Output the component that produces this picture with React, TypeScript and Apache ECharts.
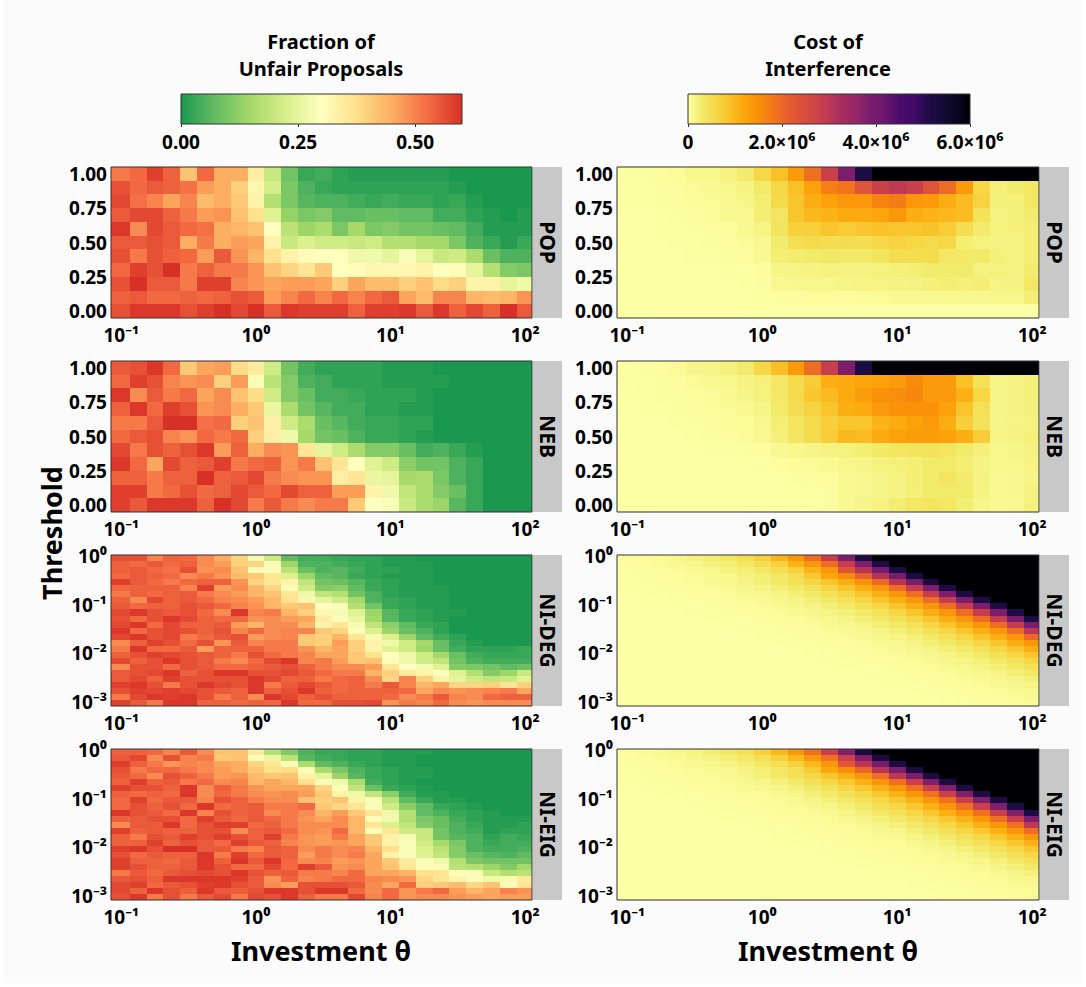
import React, { useEffect, useRef } from "react";
import * as echarts from "echarts";

// Fraction of unfair proposals, in percent. Rows run top to bottom, columns left to right.
const popUnfair = [
  [51,53,58,54,42,53,45,45,34,20,9,3,4,2,1,1,1,1,1,1,0,0,0,0,0],
  [56,53,55,54,52,47,45,40,32,22,10,5,3,2,2,2,2,2,2,2,1,0,0,0,0],
  [57,52,50,46,50,43,45,41,33,17,10,6,5,5,4,3,4,3,3,2,3,1,0,0,0],
  [55,57,57,54,51,47,48,42,37,24,13,10,11,7,7,8,8,7,7,4,4,2,1,0,1],
  [59,49,57,55,53,52,45,44,42,30,18,14,16,10,15,10,11,9,9,8,7,4,1,1,1],
  [55,55,56,55,45,51,45,47,46,33,20,23,21,21,20,21,17,17,15,15,10,5,3,1,3],
  [56,51,56,54,53,47,55,48,44,37,33,31,30,30,27,27,25,29,25,20,21,16,8,5,5],
  [53,58,56,60,51,54,51,51,48,42,39,36,41,30,31,32,32,32,33,30,31,25,17,11,10],
  [56,60,55,55,51,58,58,50,48,46,47,47,46,40,46,43,43,40,42,38,40,33,33,25,27],
  [54,55,53,53,54,53,54,56,55,47,50,53,50,53,50,53,55,46,43,50,50,44,43,44,48],
  [56,59,59,59,56,58,60,57,60,55,59,58,58,58,54,58,58,59,55,59,54,57,54,60,55],
];
const nebUnfair = [
  [55,56,59,53,41,46,47,38,35,21,9,4,2,2,2,2,1,1,1,0,0,0,0,0,0],
  [53,58,56,50,48,49,40,47,29,18,11,5,4,2,2,2,1,1,1,1,0,0,0,0,0],
  [59,49,55,51,53,46,49,42,38,21,11,8,4,4,3,2,2,2,1,0,0,0,0,0,0],
  [54,59,53,58,56,48,49,45,41,26,16,9,6,4,4,2,2,1,1,0,0,0,0,0,0],
  [51,51,55,60,60,52,53,40,42,34,21,16,8,6,4,3,3,2,2,0,0,0,0,0,0],
  [53,55,56,50,48,53,51,53,40,34,27,15,9,8,5,3,3,2,1,0,0,0,0,0,0],
  [57,51,56,54,56,59,47,54,45,49,48,36,25,21,16,11,11,8,4,5,3,1,0,0,0],
  [59,53,46,57,54,55,58,51,53,54,48,51,42,36,30,24,21,12,9,9,5,3,0,0,0],
  [54,54,51,54,54,60,54,55,57,51,49,48,48,34,36,26,25,15,16,10,5,3,0,0,0],
  [58,58,51,53,56,53,54,57,55,53,57,54,54,47,47,33,27,19,16,11,8,3,0,0,0],
  [58,55,59,59,59,54,60,57,51,55,51,49,51,51,41,30,29,20,16,14,6,3,0,0,0],
];
const degUnfair = [
  [56,56,50,54,53,49,45,39,28,21,7,4,4,3,2,2,1,1,0,0,0,0,0,0,0],
  [54,53,55,53,54,49,47,40,39,29,14,5,5,4,3,2,1,1,1,0,0,0,0,0,0],
  [54,55,53,52,56,48,49,42,29,29,18,8,5,6,4,2,2,1,1,0,0,0,0,0,0],
  [53,55,54,53,49,51,48,43,41,36,23,14,7,6,3,2,1,1,1,0,0,0,0,0,0],
  [58,55,53,51,53,54,54,48,39,36,33,19,9,8,6,3,2,1,1,0,0,0,0,0,0],
  [53,54,54,54,50,58,47,49,44,39,29,21,11,12,7,3,2,1,1,1,0,0,0,0,0],
  [51,54,53,54,55,51,49,47,44,42,36,27,19,17,9,5,2,1,1,1,0,0,0,0,0],
  [54,49,57,54,55,53,50,49,47,44,37,32,25,21,15,5,3,2,1,1,0,0,0,0,0],
  [55,53,54,54,56,55,53,50,48,44,41,42,30,29,17,9,3,2,1,1,0,0,0,0,0],
  [57,59,56,55,56,53,49,59,50,51,44,40,32,28,24,14,6,3,2,1,1,0,0,0,0],
  [56,53,56,59,57,54,53,53,48,49,47,46,34,29,26,15,6,3,2,1,0,0,0,0,0],
  [57,59,53,57,54,54,55,47,44,49,49,44,33,36,28,19,12,7,3,2,0,0,0,0,0],
  [59,53,56,57,56,54,56,50,53,49,50,50,41,39,31,23,14,8,5,2,0,0,0,0,0],
  [57,59,56,57,51,53,55,56,47,49,50,41,40,44,36,28,23,14,7,4,2,0,0,0,0],
  [49,54,58,56,53,56,48,55,50,51,51,41,40,47,40,33,27,21,15,8,3,1,0,0,0],
  [51,59,53,53,55,47,54,54,54,51,51,48,44,46,40,33,24,21,14,8,4,2,2,2,3],
  [54,56,58,57,56,55,54,51,56,53,51,50,46,46,41,37,30,27,21,15,8,4,3,3,3],
  [57,54,56,59,56,55,51,49,53,57,59,50,51,47,41,42,31,27,21,19,9,5,4,4,4],
  [49,56,56,53,56,55,53,53,54,55,56,54,51,49,49,47,36,30,28,24,11,10,9,7,8],
  [55,56,57,59,54,56,59,59,56,56,57,55,53,51,51,44,40,35,33,30,24,17,11,14,20],
  [55,57,54,58,56,56,56,56,59,57,54,54,51,53,54,49,39,50,40,33,25,21,19,20,24],
  [58,59,56,51,56,59,57,56,59,51,55,57,55,53,54,51,55,50,44,46,39,39,40,36,40],
  [56,58,57,58,57,56,55,54,59,54,56,59,54,53,54,54,54,53,46,49,48,49,50,51,46],
  [51,57,59,58,59,56,51,54,49,59,57,54,56,54,54,54,53,49,51,55,50,49,53,54,54],
  [58,55,51,59,59,54,54,53,54,53,59,53,53,56,56,57,48,51,50,53,49,48,49,49,49],
];
const eigUnfair = [
  [54,54,53,50,55,49,42,42,35,17,11,5,3,3,2,2,1,1,1,0,0,0,0,0,0],
  [55,57,49,56,50,51,41,42,31,26,18,6,4,3,2,2,1,1,0,0,0,0,0,0,0],
  [58,54,51,48,50,49,46,45,39,36,29,16,7,5,3,2,1,1,0,0,0,0,0,0,0],
  [56,51,53,53,51,49,47,45,41,37,38,29,16,10,5,3,2,1,1,0,0,0,0,0,0],
  [55,53,49,56,54,51,47,48,43,41,42,33,25,14,6,3,2,1,1,0,0,0,0,0,0],
  [54,58,54,55,51,53,49,50,44,46,44,37,29,27,16,4,2,1,0,0,0,0,0,0,0],
  [58,56,56,54,59,49,54,51,48,46,46,46,39,29,19,8,3,2,1,0,0,0,0,0,0],
  [54,53,54,53,59,49,53,51,49,48,49,47,41,33,27,19,12,4,1,1,0,0,0,0,0],
  [53,58,53,55,55,50,56,54,51,49,49,42,40,42,33,29,18,7,3,1,1,0,0,0,0],
  [53,56,54,56,53,59,53,54,55,51,51,53,41,39,36,29,21,12,7,3,2,1,0,0,0],
  [59,56,55,53,59,50,56,54,55,49,51,49,44,47,41,36,27,17,7,5,3,2,1,0,0],
  [54,55,56,56,53,58,55,53,55,53,51,48,46,49,44,31,27,17,10,8,4,2,1,1,1],
  [49,55,55,59,53,56,58,58,53,54,51,49,49,49,44,36,23,19,11,8,5,3,1,1,2],
  [58,54,55,54,54,56,56,49,54,55,53,49,48,53,44,31,36,21,20,9,5,4,1,2,2],
  [54,51,56,55,58,56,58,56,54,58,51,48,47,51,46,41,33,28,20,9,6,5,2,4,3],
  [54,54,58,54,56,55,53,58,55,54,50,48,47,48,46,41,33,29,21,15,10,5,3,4,4],
  [58,59,56,60,60,55,55,51,50,55,54,49,51,49,50,44,37,29,23,18,11,5,4,4,5],
  [56,53,55,54,54,59,51,58,53,55,54,47,51,49,51,46,33,29,24,19,11,8,6,5,7],
  [58,54,54,53,55,59,54,59,55,59,53,49,50,47,48,46,41,35,29,27,17,10,9,9,9],
  [58,56,54,54,55,59,56,53,53,57,53,58,55,48,49,46,42,36,31,29,18,17,14,11,15],
  [51,55,53,55,56,57,56,59,56,54,55,51,51,50,53,46,46,44,37,36,31,29,20,17,18],
  [55,56,54,59,59,59,59,58,55,48,54,50,51,53,53,50,49,48,39,36,33,29,27,28,35],
  [57,58,53,55,56,58,59,56,55,49,47,56,56,56,55,49,46,53,40,41,43,39,42,31,36],
  [57,54,59,56,54,59,55,54,56,59,59,56,59,59,53,49,53,48,51,53,47,44,46,50,48],
  [56,59,51,56,51,55,57,51,57,56,59,54,51,51,57,50,53,48,49,49,48,47,46,47,47],
];

// Cost of interference, in units of 10^4.
const popCost = [
  [1,2,4,5,12,12,18,28,60,90,135,190,280,385,520,600,600,600,600,600,600,600,600,600,600],
  [1,1,3,4,6,8,13,17,30,60,90,125,170,185,235,280,295,280,235,195,135,60,22,28,35],
  [1,1,2,3,5,7,10,15,25,55,85,110,125,140,140,165,175,140,135,110,95,65,22,22,33],
  [0,0,1,2,3,5,8,10,25,38,85,100,105,115,115,120,140,110,105,100,95,42,20,22,28],
  [0,0,1,1,2,3,4,8,16,40,70,70,85,75,80,88,85,85,88,75,50,28,20,22,24],
  [0,0,0,1,1,2,3,5,10,28,48,55,50,52,50,58,65,60,55,60,25,20,18,20,25],
  [0,0,0,0,1,1,2,3,8,25,27,30,33,32,32,40,50,50,52,35,32,32,22,20,25],
  [0,0,0,0,0,0,1,1,3,14,16,17,20,18,18,20,22,25,28,28,30,20,20,18,28],
  [0,0,0,0,0,0,0,1,2,10,11,13,13,14,16,16,17,18,22,24,22,24,16,17,35],
  [0,0,0,0,0,0,0,0,1,3,3,4,4,4,5,7,8,8,9,10,11,11,12,12,24],
  [0,0,0,0,0,0,0,0,1,1,1,1,1,1,1,1,1,1,1,1,1,1,1,1,1],
];
const nebCost = [
  [1,2,4,6,13,14,20,28,58,92,135,195,285,385,520,600,600,600,600,600,600,600,600,600,600],
  [1,1,2,3,7,9,12,17,22,35,55,75,110,115,120,125,135,155,135,135,90,45,15,17,22],
  [0,1,2,2,4,5,9,14,20,33,55,80,98,115,132,145,153,160,135,135,108,60,15,17,22],
  [0,0,1,2,3,4,7,10,15,30,50,65,85,110,115,135,145,145,145,125,85,45,15,17,21],
  [0,0,0,1,2,3,5,7,12,25,38,55,72,85,85,105,115,125,135,110,72,42,14,16,20],
  [0,0,0,0,1,2,3,5,10,22,38,55,75,100,95,115,125,130,130,125,110,75,15,17,22],
  [0,0,0,0,0,1,1,2,3,8,12,15,18,20,25,32,38,40,42,38,30,22,12,14,18],
  [0,0,0,0,0,0,0,0,1,3,5,6,9,13,15,20,22,25,30,30,25,16,12,12,16],
  [0,0,0,0,0,0,0,0,0,1,2,3,4,8,11,14,19,24,30,38,28,18,10,11,15],
  [0,0,0,0,0,0,0,0,0,0,0,1,2,9,11,14,17,23,30,30,30,17,10,11,18],
  [0,0,0,0,0,0,0,0,0,0,0,1,2,8,14,18,26,35,38,35,25,13,9,10,20],
];
const degCost = [
  [4,6,9,12,18,25,35,48,70,105,140,195,285,385,520,600,600,600,600,600,600,600,600,600,600],
  [3,4,6,9,12,18,25,35,48,70,105,140,195,285,385,520,600,600,600,600,600,600,600,600,600],
  [2,3,4,6,9,12,18,25,35,48,70,105,140,235,305,395,520,600,600,600,600,600,600,600,600],
  [1,2,3,4,6,9,12,18,25,35,48,80,120,155,210,310,390,530,600,600,600,600,600,600,600],
  [1,2,3,4,5,8,11,16,23,32,45,62,85,110,145,200,305,390,530,600,600,600,600,600,600],
  [1,1,2,3,4,5,8,11,16,23,32,45,62,85,110,140,195,285,385,520,600,600,600,600,600],
  [0,1,1,2,3,4,5,8,11,16,23,32,45,62,85,110,140,195,285,385,520,600,600,600,600],
  [0,0,1,1,2,3,4,5,8,11,16,23,32,45,62,85,110,140,195,285,385,520,600,600,600],
  [0,0,0,1,1,2,3,4,5,8,11,16,23,32,45,62,85,110,140,195,285,385,520,600,600],
  [0,0,0,0,1,1,2,3,4,5,8,11,16,23,32,45,62,85,110,140,195,285,385,520,600],
  [0,0,0,0,0,1,1,2,3,4,5,8,11,16,23,32,45,62,85,110,140,195,285,385,520],
  [0,0,0,0,0,0,1,1,2,3,4,5,8,11,16,23,32,45,62,85,110,140,195,285,390],
  [0,0,0,0,0,0,0,1,1,2,3,4,5,8,11,16,23,32,45,62,85,110,140,195,300],
  [0,0,0,0,0,0,0,0,1,1,2,3,4,5,8,11,16,23,32,45,62,85,110,140,200],
  [0,0,0,0,0,0,0,0,0,1,1,2,3,4,5,8,11,16,23,32,45,62,85,110,140],
  [0,0,0,0,0,0,0,0,0,0,1,1,2,3,4,5,8,11,16,23,32,45,62,85,110],
  [0,0,0,0,0,0,0,0,0,0,0,1,1,2,3,4,5,8,11,16,23,32,45,62,85],
  [0,0,0,0,0,0,0,0,0,0,0,0,1,1,2,3,4,5,8,11,16,23,32,45,62],
  [0,0,0,0,0,0,0,0,0,0,0,0,0,1,1,2,3,4,5,8,11,16,23,32,45],
  [0,0,0,0,0,0,0,0,0,0,0,0,0,0,1,1,2,3,4,5,8,11,16,23,32],
  [0,0,0,0,0,0,0,0,0,0,0,0,0,0,0,1,1,2,3,4,5,8,11,16,23],
  [0,0,0,0,0,0,0,0,0,0,0,0,0,0,0,0,1,1,2,3,4,5,8,11,16],
  [0,0,0,0,0,0,0,0,0,0,0,0,0,0,0,0,0,1,1,2,3,4,5,8,11],
  [0,0,0,0,0,0,0,0,0,0,0,0,0,0,0,0,0,0,1,1,2,3,4,5,8],
  [0,0,0,0,0,0,0,0,0,0,0,0,0,0,0,0,0,0,0,1,1,2,3,4,5],
];
const eigCost = [
  [4,6,8,12,17,24,34,47,70,100,140,190,280,380,520,600,600,600,600,600,600,600,600,600,600],
  [3,4,6,8,12,17,24,34,47,70,100,140,190,280,380,520,600,600,600,600,600,600,600,600,600],
  [2,3,4,6,8,12,17,24,34,47,70,100,140,230,300,390,520,600,600,600,600,600,600,600,600],
  [1,2,3,4,6,8,12,17,24,34,47,78,118,150,205,305,385,525,600,600,600,600,600,600,600],
  [1,2,3,4,5,7,10,15,22,31,44,60,82,108,140,195,300,385,525,600,600,600,600,600,600],
  [1,1,2,3,4,5,7,10,15,22,31,44,60,82,108,138,190,280,380,520,600,600,600,600,600],
  [0,1,1,2,3,4,5,7,10,15,22,31,44,60,82,108,138,190,280,380,520,600,600,600,600],
  [0,0,1,1,2,3,4,5,7,10,15,22,31,44,60,82,108,138,190,280,380,520,600,600,600],
  [0,0,0,1,1,2,3,4,5,7,10,15,22,31,44,60,82,108,138,190,280,380,520,600,600],
  [0,0,0,0,1,1,2,3,4,5,7,10,15,22,31,44,60,82,108,138,190,280,380,520,600],
  [0,0,0,0,0,1,1,2,3,4,5,7,10,15,22,31,44,60,82,108,138,190,280,380,520],
  [0,0,0,0,0,0,1,1,2,3,4,5,7,10,15,22,31,44,60,82,108,138,190,280,385],
  [0,0,0,0,0,0,0,1,1,2,3,4,5,7,10,15,22,31,44,60,82,108,138,190,295],
  [0,0,0,0,0,0,0,0,1,1,2,3,4,5,7,10,15,22,31,44,60,82,108,138,195],
  [0,0,0,0,0,0,0,0,0,1,1,2,3,4,5,7,10,15,22,31,44,60,82,108,138],
  [0,0,0,0,0,0,0,0,0,0,1,1,2,3,4,5,7,10,15,22,31,44,60,82,108],
  [0,0,0,0,0,0,0,0,0,0,0,1,1,2,3,4,5,7,10,15,22,31,44,60,82],
  [0,0,0,0,0,0,0,0,0,0,0,0,1,1,2,3,4,5,7,10,15,22,31,44,60],
  [0,0,0,0,0,0,0,0,0,0,0,0,0,1,1,2,3,4,5,7,10,15,22,31,44],
  [0,0,0,0,0,0,0,0,0,0,0,0,0,0,1,1,2,3,4,5,7,10,15,22,31],
  [0,0,0,0,0,0,0,0,0,0,0,0,0,0,0,1,1,2,3,4,5,7,10,15,22],
  [0,0,0,0,0,0,0,0,0,0,0,0,0,0,0,0,1,1,2,3,4,5,7,10,15],
  [0,0,0,0,0,0,0,0,0,0,0,0,0,0,0,0,0,1,1,2,3,4,5,7,10],
  [0,0,0,0,0,0,0,0,0,0,0,0,0,0,0,0,0,0,1,1,2,3,4,5,7],
  [0,0,0,0,0,0,0,0,0,0,0,0,0,0,0,0,0,0,0,1,1,2,3,4,5],
];

const stripNames = ["POP", "NEB", "NI-DEG", "NI-EIG"];
const linearThresholdTicks = [0, 0.25, 0.5, 0.75, 1];
const logThresholdTicks = [-3, -2, -1, 0];
const investmentTicks = [-1, 0, 1, 2];
const powerLabels: Record<string, string> = { "-3": "10⁻³", "-2": "10⁻²", "-1": "10⁻¹", "0": "10⁰", "1": "10¹", "2": "10²" };
const unfairBarTicks = [0, 0.25, 0.5];
const costBarTicks = [0, 2e6, 4e6, 6e6];
const costBarLabels = ["0", "2.0×10⁶", "4.0×10⁶", "6.0×10⁶"];

const greens = ["#1a9850", "#66bd63", "#a6d96a", "#d9ef8b", "#ffffbf", "#fee08b", "#fdae61", "#f46d43", "#d73027"];
const inferno = ["#fcffa4", "#f2ea69", "#f6d746", "#fac127", "#fca50a", "#f98e09", "#f37819", "#e8602d", "#dd513a", "#cf4446", "#bc3754", "#a52c60", "#932667", "#781c6d", "#6a176e", "#4a0c6b", "#420a68", "#210c4a", "#160b39", "#0a0722", "#000004"];

const FONT = "'Noto Sans', sans-serif";
const INK = "#000";
const BORDER = "#333";

const plotTops = [167, 361, 555, 749];
const plotH = 151;
const columns = [{ left: 111, w: 421 }, { left: 617, w: 422 }];
const stripW = 29;

function buildCells(rows: number[][], logY: boolean) {
  const out: number[][] = [];
  const n = rows.length;
  rows.forEach((row, r) => {
    row.forEach((v, c) => {
      const x = -1 + c / 8;
      const idx = n - 1 - r;
      const y = logY ? -3 + idx / 8 : idx / 10;
      out.push([x, y, v, c, idx]);
    });
  });
  return out;
}

function cellSeries(rows: number[][], logY: boolean, gridIndex: number, palette: string[], top: number, name: string) {
  const hy = logY ? 1 / 16 : 1 / 20;
  const nudge = logY ? 0.03 : 0;
  return {
    type: "custom",
    name,
    xAxisIndex: gridIndex,
    yAxisIndex: gridIndex,
    silent: true,
    clip: true,
    data: buildCells(rows, logY),
    encode: { x: 0, y: 1 },
    renderItem: (params: any, api: any) => {
      const x = api.value(0);
      const y = api.value(1) - nudge;
      const v = api.value(2);
      const c = api.value(3);
      const idx = api.value(4);
      const a = api.coord([x - (c === 0 ? 0.12 : 1 / 16), y + hy]);
      const b = api.coord([x + 1 / 16, y - (idx === 0 ? hy + 0.05 : hy)]);
      const cs = params.coordSys;
      const x0 = Math.max(Math.round(a[0]), cs.x);
      const x1 = Math.min(Math.round(b[0]), cs.x + cs.width);
      const y0 = Math.max(Math.round(a[1]), cs.y);
      const y1 = Math.min(Math.round(b[1]), cs.y + cs.height);
      return {
        type: "rect",
        shape: { x: x0, y: y0, width: x1 - x0, height: y1 - y0 },
        style: { fill: echarts.color.lerp(Math.min(1, v / top), palette) },
      };
    },
  };
}

function axisFont() {
  return { color: INK, fontFamily: FONT, fontWeight: "bold" as const, fontSize: 19 };
}

function makeOption() {
  const grids: any[] = [];
  const xAxes: any[] = [];
  const yAxes: any[] = [];
  const series: any[] = [];
  const graphics: any[] = [
    { type: "rect", z: -10, shape: { x: 4, y: 0, width: 1078, height: 983 }, style: { fill: "#fbfbfb" }, silent: true },
  ];
  const tables = [
    [popUnfair, nebUnfair, degUnfair, eigUnfair],
    [popCost, nebCost, degCost, eigCost],
  ];
  columns.forEach((col, ci) => {
    plotTops.forEach((top, pi) => {
      const logY = pi >= 2;
      const gi = grids.length;
      grids.push({ left: col.left, top, width: col.w, height: plotH, containLabel: false });
      xAxes.push({
        type: "value",
        gridIndex: gi,
        min: -1.077,
        max: 2.051,
        splitLine: { show: false },
        axisLine: { show: false },
        axisTick: { show: true, length: 3, lineStyle: { color: BORDER }, customValues: investmentTicks },
        axisLabel: { ...axisFont(), margin: 7, customValues: investmentTicks, formatter: (v: number) => powerLabels[String(Math.round(v))] },
      });
      yAxes.push({
        type: "value",
        gridIndex: gi,
        min: logY ? -3.083 : -0.05,
        max: logY ? 0.03 : 1.05,
        splitLine: { show: false },
        axisLine: { show: false },
        axisTick: { show: true, length: 3, lineStyle: { color: BORDER }, customValues: logY ? logThresholdTicks : linearThresholdTicks },
        axisLabel: {
          ...axisFont(),
          margin: 4,
          customValues: logY ? logThresholdTicks : linearThresholdTicks,
          formatter: (v: number) => (logY ? powerLabels[String(Math.round(v))] : v.toFixed(2)),
        },
      });
      series.push(cellSeries(tables[ci][pi], logY, gi, ci === 0 ? greens : inferno, ci === 0 ? 60 : 600, stripNames[pi]));
      graphics.push({ type: "rect", z: 50, silent: true, shape: { x: col.left, y: top, width: col.w, height: plotH }, style: { fill: "none", stroke: BORDER, lineWidth: 1 } });
      graphics.push({ type: "rect", z: 1, silent: true, shape: { x: col.left + col.w + 1, y: top, width: stripW, height: plotH }, style: { fill: "#c8c8c8" } });
      graphics.push({
        type: "text", z: 51, silent: true,
        x: col.left + col.w + 1 + stripW / 2, y: top + plotH / 2, rotation: -Math.PI / 2,
        style: { text: stripNames[pi], fontFamily: FONT, fontWeight: "bold", fontSize: 21, fill: INK, align: "center", verticalAlign: "middle" },
      });
    });
  });

  const bars = [
    { left: 181, w: 281, max: 0.6, ticks: unfairBarTicks, palette: greens, fmt: (v: number) => v.toFixed(2) },
    { left: 688, w: 282, max: 6e6, ticks: costBarTicks, palette: inferno, fmt: (v: number) => costBarLabels[costBarTicks.indexOf(v)] },
  ];
  bars.forEach((bar) => {
    const gi = grids.length;
    grids.push({ left: bar.left, top: 94, width: bar.w, height: 30 });
    xAxes.push({
      type: "value",
      gridIndex: gi,
      min: 0,
      max: bar.max,
      splitLine: { show: false },
      axisLine: { show: false },
      axisTick: { show: true, length: 3, lineStyle: { color: BORDER }, customValues: bar.ticks },
      axisLabel: { ...axisFont(), margin: 8, customValues: bar.ticks, formatter: bar.fmt },
    });
    yAxes.push({ type: "value", gridIndex: gi, min: 0, max: 1, show: false });
    series.push({
      type: "custom",
      xAxisIndex: gi,
      yAxisIndex: gi,
      silent: true,
      data: [[0, 1, bar.max, 0]],
      encode: { x: [0, 2], y: [1, 3] },
      renderItem: (_p: any, api: any) => {
        const a = api.coord([api.value(0), api.value(1)]);
        const b = api.coord([api.value(2), api.value(3)]);
        return {
          type: "rect",
          shape: { x: a[0], y: a[1], width: b[0] - a[0], height: b[1] - a[1] },
          style: {
            fill: new echarts.graphic.LinearGradient(0, 0, 1, 0,
              bar.palette.map((color, i) => ({ offset: i / (bar.palette.length - 1), color }))),
          },
        };
      },
    });
    graphics.push({ type: "rect", z: 50, silent: true, shape: { x: bar.left, y: 94, width: bar.w, height: 30 }, style: { fill: "none", stroke: BORDER, lineWidth: 1 } });
  });

  const label = (text: string, x: number, y: number, size: number, rotation = 0) => ({
    type: "text", z: 51, silent: true, x, y, rotation,
    style: { text, fontFamily: FONT, fontWeight: "bold", fontSize: size, fill: INK, align: "center", verticalAlign: "middle" },
  });
  graphics.push(label("Fraction of", 321, 41, 20));
  graphics.push(label("Unfair Proposals", 321, 68, 20));
  graphics.push(label("Cost of", 828, 41, 20));
  graphics.push(label("Interference", 828, 68, 20));
  graphics.push(label("Investment θ", 321, 950, 27));
  graphics.push(label("Investment θ", 828, 950, 27));
  graphics.push(label("Threshold", 51, 533, 27, Math.PI / 2));

  return {
    animation: false,
    backgroundColor: "#ffffff",
    textStyle: { fontFamily: FONT },
    grid: grids,
    xAxis: xAxes,
    yAxis: yAxes,
    series,
    graphic: graphics,
  };
}

export default function App() {
  const ref = useRef<HTMLDivElement>(null);
  useEffect(() => {
    if (!ref.current) return;
    const chart = echarts.init(ref.current, undefined, { renderer: "svg" });
    chart.setOption(makeOption() as any);
    return () => chart.dispose();
  }, []);
  return <div ref={ref} style={{ position: "absolute", left: 0, top: 0, width: 1086, height: 987 }} />;
}
